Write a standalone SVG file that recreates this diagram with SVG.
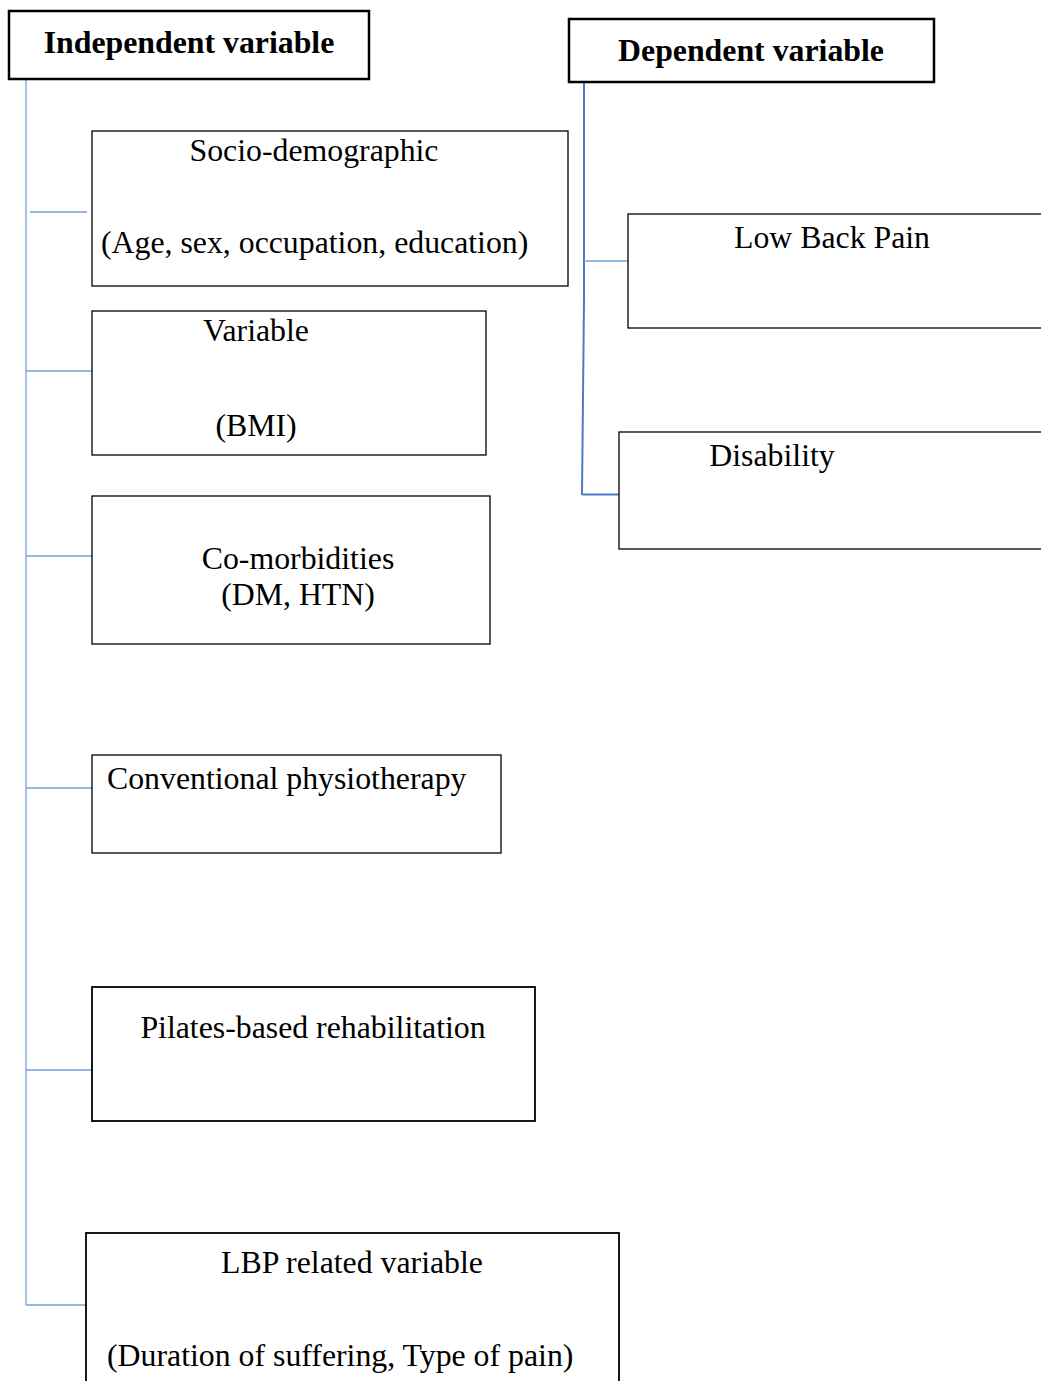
<svg xmlns="http://www.w3.org/2000/svg" width="1041" height="1381" viewBox="0 0 1041 1381">
<style>
.box{fill:#fff;stroke:#000;stroke-width:1.3}
.hbox{fill:#fff;stroke:#000;stroke-width:2.5}
.t{font-family:"Liberation Serif","Times New Roman",serif;font-size:31.8px;fill:#000}
.b{font-weight:bold}
.c{stroke:#6fa4dc;stroke-width:1.3;fill:none}
.d{stroke:#4a7cc4;stroke-width:2;fill:none}
</style>
<rect width="1041" height="1381" fill="#fff"/>
<g id="connectors">
<line class="c" x1="26" y1="80" x2="26" y2="1305"/>
<line class="c" x1="30" y1="212" x2="87" y2="212"/>
<line class="c" x1="26" y1="371" x2="92" y2="371"/>
<line class="c" x1="26" y1="556" x2="92" y2="556"/>
<line class="c" x1="26" y1="788" x2="92" y2="788"/>
<line class="c" x1="26" y1="1070" x2="92" y2="1070"/>
<line class="c" x1="26" y1="1305" x2="86" y2="1305"/>
<polyline class="d" points="584,83 584,300 582,495"/>
<line class="c" x1="584" y1="261" x2="628" y2="261"/>
<line class="d" x1="582" y1="494.5" x2="619" y2="494.5"/>
</g>
<g id="independent">
<rect class="hbox" x="9" y="11" width="360" height="68"/>
<text class="t b" x="189" y="53" text-anchor="middle">Independent variable</text>
</g>
<g id="dependent">
<rect class="hbox" x="569" y="19" width="365" height="63"/>
<text class="t b" x="751" y="61" text-anchor="middle">Dependent variable</text>
</g>
<g id="socio">
<rect class="box" x="92" y="131" width="476" height="155"/>
<text class="t" x="314" y="161" text-anchor="middle">Socio-demographic</text>
<text class="t" x="101" y="253">(Age, sex, occupation, education)</text>
</g>
<g id="variable">
<rect class="box" x="92" y="311" width="394" height="144"/>
<text class="t" x="256" y="341" text-anchor="middle">Variable</text>
<text class="t" x="256" y="436" text-anchor="middle">(BMI)</text>
</g>
<g id="comorbidities">
<rect class="box" x="92" y="496" width="398" height="148"/>
<text class="t" x="298" y="569" text-anchor="middle">Co-morbidities</text>
<text class="t" x="298" y="605" text-anchor="middle">(DM, HTN)</text>
</g>
<g id="conventional">
<rect class="box" x="92" y="755" width="409" height="98"/>
<text class="t" x="107" y="789">Conventional physiotherapy</text>
</g>
<g id="pilates">
<rect class="box" x="92" y="987" width="443" height="134" style="stroke-width:1.8"/>
<text class="t" x="313" y="1038" text-anchor="middle">Pilates-based rehabilitation</text>
</g>
<g id="lbp-related">
<rect class="box" x="86" y="1233" width="533" height="160" style="stroke-width:1.8"/>
<text class="t" x="352" y="1273" text-anchor="middle">LBP related variable</text>
<text class="t" x="107" y="1366">(Duration of suffering, Type of pain)</text>
</g>
<g id="low-back-pain">
<rect class="box" x="628" y="214" width="430" height="114"/>
<text class="t" x="832" y="248" text-anchor="middle">Low Back Pain</text>
</g>
<g id="disability">
<rect class="box" x="619" y="432" width="440" height="117"/>
<text class="t" x="772" y="466" text-anchor="middle">Disability</text>
</g>
</svg>
